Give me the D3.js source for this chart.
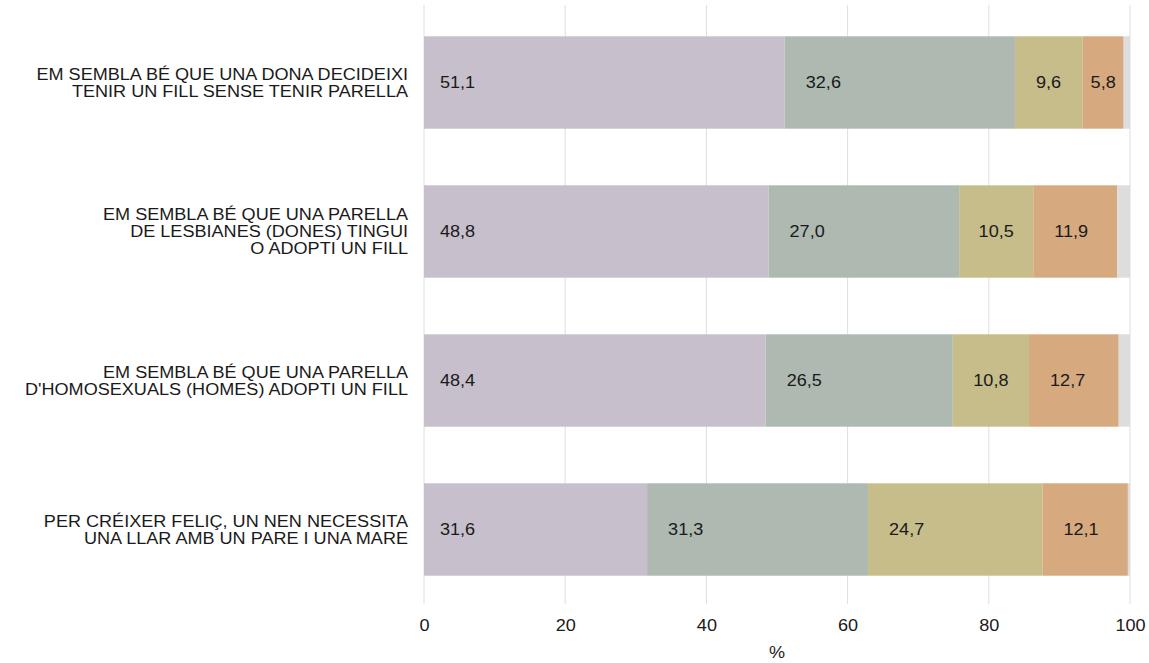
<!DOCTYPE html>
<html>
<head>
<meta charset="utf-8">
<script src="https://cdn.jsdelivr.net/npm/d3@7"></script>
<style>
  body { margin: 0; background: #fff; }
  text { font-family: "Liberation Sans", Arial, sans-serif; }
</style>
</head>
<body>
<div id="chart"></div>
<script>
// categories (one line per array entry)
var preguntes = [
  ["EM SEMBLA BÉ QUE UNA DONA DECIDEIXI", "TENIR UN FILL SENSE TENIR PARELLA"],
  ["EM SEMBLA BÉ QUE UNA PARELLA", "DE LESBIANES (DONES) TINGUI", "O ADOPTI UN FILL"],
  ["EM SEMBLA BÉ QUE UNA PARELLA", "D'HOMOSEXUALS (HOMES) ADOPTI UN FILL"],
  ["PER CRÉIXER FELIÇ, UN NEN NECESSITA", "UNA LLAR AMB UN PARE I UNA MARE"]
];

// series values (%)
var serie1 = [51.1, 48.8, 48.4, 31.6];
var serie2 = [32.6, 27.0, 26.5, 31.3];
var serie3 = [9.6, 10.5, 10.8, 24.7];
var serie4 = [5.8, 11.9, 12.7, 12.1];
var resta  = [0.9, 1.8, 1.6, 0.3];

var ticksX = [0, 20, 40, 60, 80, 100];

var colors = ["#c7bfcb", "#adb9b1", "#c6bd8b", "#d6a97f", "#dddddd"];
var series = [serie1, serie2, serie3, serie4, resta];

var W = 1149, H = 663;
var margin = {left: 424, right: 19, top: 8, bottom: 59};
var estira = 1.13;  // the text in the original is wider than plain Arial
var mida = "16px";

var svg = d3.select("#chart").append("svg")
  .attr("width", W)
  .attr("height", H);

var x = d3.scaleLinear()
  .domain([0, 100])
  .range([margin.left, W - margin.right]);

var y = d3.scaleBand()
  .domain(d3.range(preguntes.length))
  .range([margin.top, H - margin.bottom])
  .paddingInner(0.38)
  .paddingOuter(0.19);

// gridlines
svg.append("g")
  .selectAll("line")
  .data(ticksX)
  .enter().append("line")
    .attr("x1", function(d) { return x(d); })
    .attr("x2", function(d) { return x(d); })
    .attr("y1", margin.top - 3)
    .attr("y2", H - margin.bottom)
    .style("stroke", "#dedede")
    .style("stroke-width", 1);

// segments
var fileres = d3.range(preguntes.length).map(function(i) {
  var acc = 0;
  return series.map(function(s, k) {
    var seg = {fila: i, serie: k, inici: acc, valor: s[i]};
    acc += s[i];
    return seg;
  });
});

var segs = svg.append("g").selectAll("g")
  .data(d3.merge(fileres))
  .enter().append("g");

segs.append("rect")
  .attr("x", function(d) { return x(d.inici); })
  .attr("y", function(d) { return y(d.fila); })
  .attr("width", function(d) { return x(d.inici + d.valor) - x(d.inici); })
  .attr("height", y.bandwidth())
  .style("fill", function(d) { return colors[d.serie]; });

segs.filter(function(d) { return d.serie < 4; })
  .append("text")
  .attr("dy", "0.36em")
  .style("font-size", mida)
  .style("fill", "#1a1a1a")
  .text(function(d) { return d3.format(".1f")(d.valor).replace(".", ","); })
  .attr("transform", function(d) {
    var w = x(d.inici + d.valor) - x(d.inici);
    var tw = this.getComputedTextLength() * estira;
    var pad = d.serie === 0 ? 16 : 21;
    var px = x(d.inici) + Math.min(pad, (w - tw) / 2);
    var py = y(d.fila) + y.bandwidth() / 2;
    return "translate(" + px + "," + py + ") scale(" + estira + ",1)";
  });

// category labels
var lh = 17;
svg.append("g").selectAll("text")
  .data(preguntes)
  .enter().append("text")
    .attr("text-anchor", "end")
    .style("font-size", mida)
    .style("fill", "#1a1a1a")
    .attr("transform", function(d, i) {
      return "translate(" + (margin.left - 16) + "," + (y(i) + y.bandwidth() / 2) + ") scale(" + estira + ",1)";
    })
    .each(function(linies) {
      var t0 = -(linies.length - 1) * lh / 2;
      d3.select(this).selectAll("tspan")
        .data(linies)
        .enter().append("tspan")
          .attr("x", 0)
          .attr("y", function(d, j) { return t0 + j * lh; })
          .attr("dy", "0.36em")
          .text(function(d) { return d; });
    });

// x axis
var eix = svg.append("g")
  .attr("transform", "translate(0," + (H - margin.bottom) + ")")
  .call(d3.axisBottom(x).tickValues(ticksX).tickSize(0).tickPadding(16));
eix.select(".domain").remove();
eix.selectAll("text")
  .attr("transform", "scale(" + estira + ",1)")
  .style("font-size", mida)
  .style("font-family", "'Liberation Sans', Arial, sans-serif")
  .style("fill", "#1a1a1a");

svg.append("text")
  .attr("transform", "translate(" + ((x(0) + x(100)) / 2) + ",658) scale(" + estira + ",1)")
  .attr("text-anchor", "middle")
  .style("font-size", mida)
  .style("fill", "#1a1a1a")
  .text("%");
</script>
</body>
</html>
